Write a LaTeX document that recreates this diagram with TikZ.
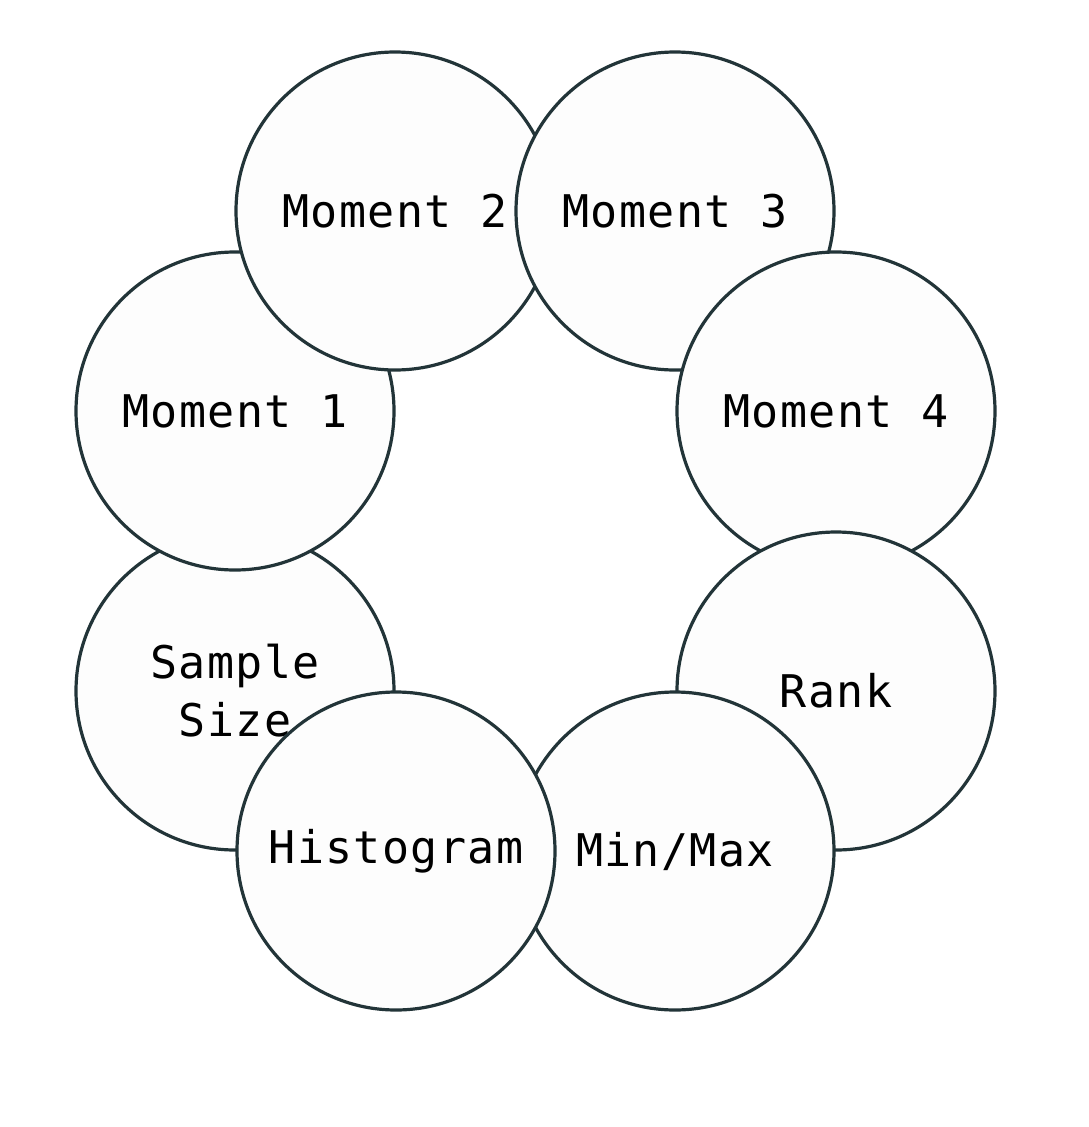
\documentclass[tikz,border=0pt]{standalone}
\usepackage{fontspec}
\newfontfamily\monof[LetterSpace=3]{DejaVu Sans Mono}
\definecolor{ringc}{HTML}{223438}
\definecolor{fillc}{HTML}{FDFDFD}
\tikzset{
  bub/.style={circle, draw=ringc, line width=3.2pt, fill=fillc, minimum size=318pt, inner sep=0pt,
    font=\monof\fontsize{45}{58}\selectfont, align=center, text=black}
}
\begin{document}
\begin{tikzpicture}[x=1pt,y=-1pt]
\useasboundingbox[fill=white] (0,0) rectangle (1088,1127);
\node[bub] (ss) at (235,691) {Sample\\Size};
\node[bub] (m1) at (235,411) {Moment 1};
\node[bub] (m2) at (395,211) {Moment 2};
\node[bub] (m3) at (675,211) {Moment 3};
\node[bub] (m4) at (836,411) {Moment 4};
\node[bub] (rk) at (836,691) {Rank};
\node[bub] (mm) at (675,851) {Min/Max};
\node[bub] (hg) at (396,851) {Histogram};
\end{tikzpicture}
\end{document}
